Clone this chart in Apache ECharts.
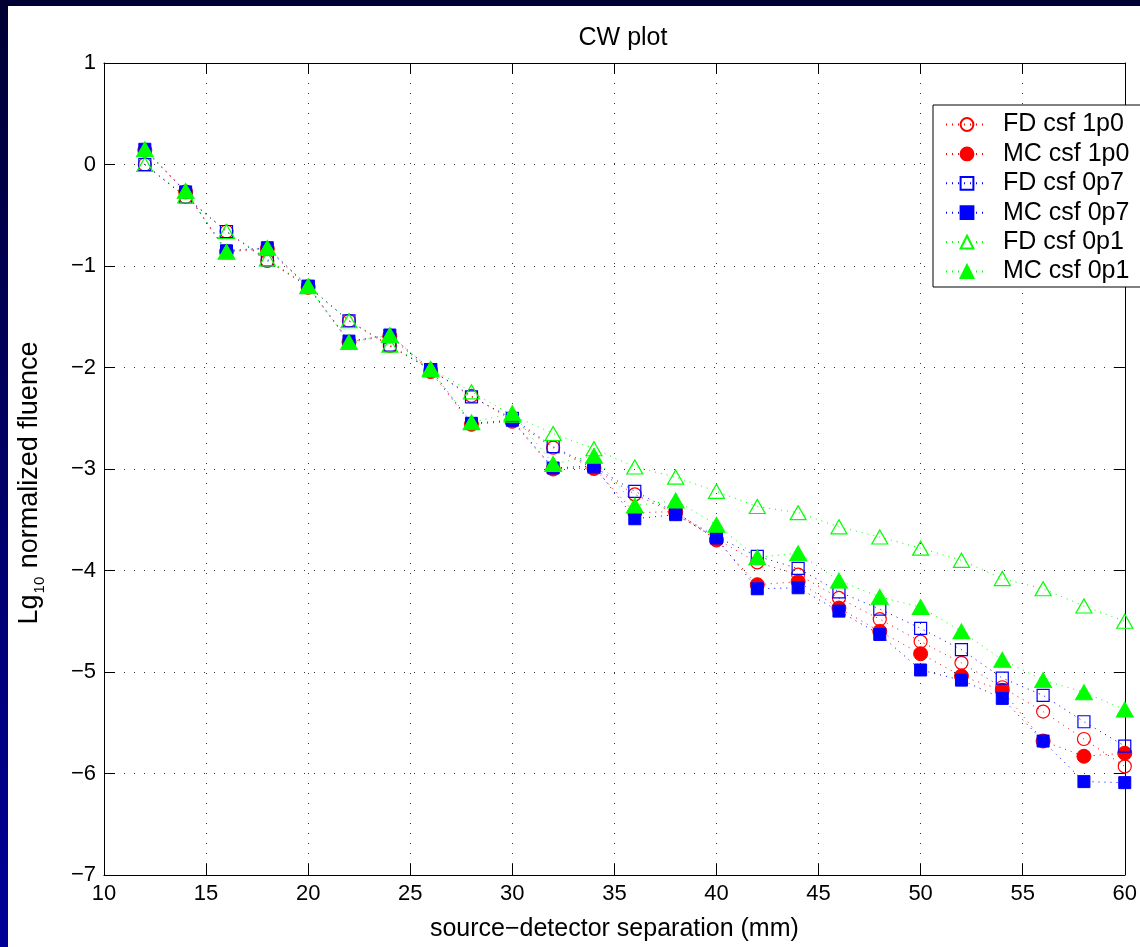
<!DOCTYPE html>
<html>
<head>
<meta charset="utf-8">
<script src="https://cdn.jsdelivr.net/npm/echarts@6/dist/echarts.min.js"></script>
<style>
  html, body { margin: 0; padding: 0; width: 1140px; height: 947px; overflow: hidden;
    background: linear-gradient(to bottom, #000034, #00009a); }
  #fig { position: absolute; left: 8px; top: 6px; width: 1132px; height: 941px; background: #fff; }
</style>
</head>
<body>
<div id="fig"></div>
<script>
// source-detector separation (mm)
const separation = [12, 14, 16, 18, 20, 22, 24, 26, 28, 30, 32, 34, 36, 38, 40, 42, 44, 46, 48, 50, 52, 54, 56, 58, 60];

// log10 of normalized fluence, finite-difference (FD) and Monte Carlo (MC) results
const fdCsf1p0 = [0.00, -0.32, -0.66, -0.95, -1.20, -1.54, -1.79, -2.02, -2.28, -2.52, -2.79, -3.00, -3.25, -3.44, -3.69, -3.92, -4.04, -4.27, -4.48, -4.70, -4.91, -5.15, -5.39, -5.66, -5.93];
const mcCsf1p0 = [0.14, -0.27, -0.86, -0.83, -1.21, -1.75, -1.69, -2.04, -2.56, -2.53, -3.00, -2.99, -3.43, -3.42, -3.70, -4.14, -4.11, -4.37, -4.60, -4.82, -5.04, -5.18, -5.68, -5.83, -5.80];
const fdCsf0p7 = [0.00, -0.32, -0.66, -0.94, -1.20, -1.54, -1.78, -2.02, -2.29, -2.50, -2.78, -2.98, -3.22, -3.43, -3.67, -3.86, -3.98, -4.21, -4.38, -4.57, -4.78, -5.06, -5.23, -5.49, -5.73];
const mcCsf0p7 = [0.15, -0.27, -0.85, -0.82, -1.20, -1.74, -1.68, -2.02, -2.55, -2.52, -2.99, -2.97, -3.49, -3.45, -3.68, -4.18, -4.17, -4.40, -4.63, -4.98, -5.08, -5.26, -5.68, -6.08, -6.09];
const fdCsf0p1 = [0.00, -0.31, -0.66, -0.93, -1.20, -1.54, -1.78, -2.01, -2.24, -2.47, -2.65, -2.80, -2.98, -3.08, -3.22, -3.37, -3.43, -3.57, -3.67, -3.78, -3.90, -4.08, -4.18, -4.35, -4.50];
const mcCsf0p1 = [0.15, -0.26, -0.86, -0.82, -1.20, -1.75, -1.68, -2.02, -2.54, -2.45, -2.95, -2.87, -3.36, -3.31, -3.55, -3.87, -3.83, -4.10, -4.26, -4.36, -4.60, -4.88, -5.08, -5.20, -5.37];

const xTicks = { min: 10, max: 60, step: 5 };
const yTicks = { min: -7, max: 1, step: 1 };

const FONT = '"Liberation Sans", Arial, Helvetica, sans-serif';
const RED = '#ff0000', BLUE = '#0000ff', GREEN = '#00ff00';

const pairs = v => separation.map((x, i) => [x, v[i]]);
const minus = v => (v < 0 ? '\u2212' + Math.abs(v) : String(v));

function makeSeries(name, values, color, symbol, size, filled) {
  return {
    name, type: 'line', data: pairs(values),
    xAxisIndex: 0, yAxisIndex: 0,
    symbol, symbolSize: size, showAllSymbol: true, clip: false,
    lineStyle: { color, width: 1, type: [1, 5] },
    itemStyle: filled
      ? { color, borderColor: color, borderWidth: 1 }
      : { color: 'rgba(255,255,255,0)', borderColor: color, borderWidth: 1.2 },
    emphasis: { disabled: true },
    animation: false
  };
}

const chart = echarts.init(document.getElementById('fig'), null, { renderer: 'canvas' });

const gridLine = { show: true, lineStyle: { color: '#333', width: 1, type: [1, 9] } };
const tick = { show: true, inside: true, length: 11, lineStyle: { color: '#000', width: 1 } };
const line = { show: true, onZero: false, lineStyle: { color: '#000', width: 1 } };

chart.setOption({
  backgroundColor: '#fff',
  animation: false,
  textStyle: { fontFamily: FONT },
  title: {
    text: 'CW plot', left: 610, top: 15, textAlign: 'center',
    textStyle: { fontFamily: FONT, fontSize: 25, fontWeight: 'normal', color: '#000' }
  },
  grid: { left: 95, top: 57, width: 1030, height: 813, containLabel: false },
  legend: {
    orient: 'vertical', left: 925, top: 99,
    backgroundColor: '#fff', borderColor: '#000', borderWidth: 1,
    padding: [7, 30, 3, 12],
    itemWidth: 42, itemHeight: 16, itemGap: 4.4,
    textStyle: { fontFamily: FONT, fontSize: 25, color: '#000', lineHeight: 18, padding: [0, 0, 0, 10] },
    data: ['FD csf 1p0', 'MC csf 1p0', 'FD csf 0p7', 'MC csf 0p7', 'FD csf 0p1', 'MC csf 0p1']
  },
  xAxis: [
    {
      type: 'value', min: xTicks.min, max: xTicks.max, interval: xTicks.step,
      position: 'bottom',
      name: 'source\u2212detector separation (mm)', nameLocation: 'middle', nameGap: 42,
      nameTextStyle: { fontFamily: FONT, fontSize: 25, color: '#000' },
      axisLine: line, axisTick: tick, splitLine: gridLine,
      axisLabel: { fontFamily: FONT, fontSize: 22, color: '#000', margin: 8, formatter: minus }
    },
    {
      type: 'value', min: xTicks.min, max: xTicks.max, interval: xTicks.step,
      position: 'top', axisLine: line, axisTick: tick,
      axisLabel: { show: false }, splitLine: { show: false }
    }
  ],
  yAxis: [
    {
      type: 'value', min: yTicks.min, max: yTicks.max, interval: yTicks.step,
      position: 'left',
      name: 'Lg{s|10} normalized fluence', nameLocation: 'middle', nameGap: 57, nameRotate: 90,
      nameTextStyle: {
        fontFamily: FONT, fontSize: 27, color: '#000', padding: [0, 28, 0, 0],
        rich: { s: { fontFamily: FONT, fontSize: 15, color: '#000', verticalAlign: 'bottom', padding: [20, 1, 0, 1] } }
      },
      axisLine: line, axisTick: tick, splitLine: gridLine,
      axisLabel: { fontFamily: FONT, fontSize: 22, color: '#000', margin: 8, formatter: minus }
    },
    {
      type: 'value', min: yTicks.min, max: yTicks.max, interval: yTicks.step,
      position: 'right', axisLine: line, axisTick: tick,
      axisLabel: { show: false }, splitLine: { show: false }
    }
  ],
  series: [
    makeSeries('FD csf 1p0', fdCsf1p0, RED, 'circle', 13, false),
    makeSeries('MC csf 1p0', mcCsf1p0, RED, 'circle', 14, true),
    makeSeries('FD csf 0p7', fdCsf0p7, BLUE, 'rect', 12, false),
    makeSeries('MC csf 0p7', mcCsf0p7, BLUE, 'rect', 12, true),
    makeSeries('FD csf 0p1', fdCsf0p1, GREEN, 'triangle', [16, 14], false),
    makeSeries('MC csf 0p1', mcCsf0p1, GREEN, 'triangle', [17, 15], true)
  ]
});
</script>
</body>
</html>
